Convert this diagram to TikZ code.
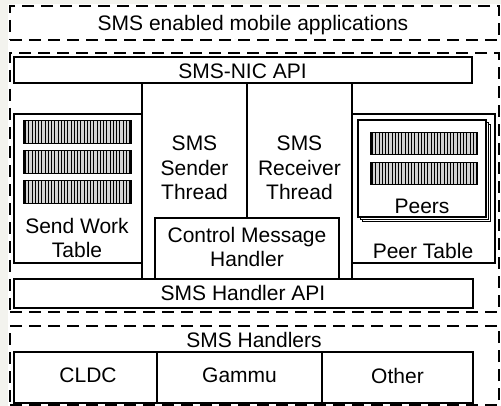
\documentclass[tikz,border=0pt]{standalone}
\usepackage{fontspec}
\setmainfont{Liberation Sans}
\definecolor{margin}{RGB}{243,243,238}
\begin{document}
\begin{tikzpicture}[x=1pt,y=-1pt,
  box/.style={draw, line width=1.6pt, fill=white, inner sep=0pt},
  pagebox/.style={draw, line width=1.1pt, fill=white, inner sep=0pt, minimum width=128pt, minimum height=97pt},
  dbox/.style={draw, line width=1.8pt, dash pattern=on 12pt off 7pt, inner sep=0pt},
  lbl/.style={font=\fontsize{21}{24.5}\selectfont, anchor=north, inner sep=0pt, align=center},
  bar/.style={draw, line width=1.4pt, fill=gray!35, inner sep=0pt, minimum height=22.5pt,
    path picture={\foreach \k in {0,...,34}{
      \draw[line width=0.9pt] ([xshift=\k*3.25pt+1.6pt]path picture bounding box.north west)
        -- ([xshift=\k*3.25pt+1.6pt]path picture bounding box.south west);}}}
]
\useasboundingbox (0,0) rectangle (501,406);
\fill[margin] (0,0) rectangle (501,406);
\fill[white] (8,4) rectangle (501,406);

% dashed layers
\node[dbox, minimum width=489pt, minimum height=34pt]  (apps) at (254.5,23) {};
\node[dbox, minimum width=489pt, minimum height=259pt] (core) at (254.5,182.5) {};
\node[dbox, minimum width=489pt, minimum height=79pt]  (hand) at (254.5,365.5) {};

% core blocks
\node[box, minimum width=105pt, minimum height=196pt] (sender)   at (194.5,181) {};
\node[box, minimum width=105pt, minimum height=196pt] (receiver) at (299.5,181) {};
\node[box, minimum width=128pt, minimum height=149pt] (sendwork) at (78,188.5) {};
\node[box, minimum width=143pt, minimum height=149pt] (peertable) at (423.5,188.5) {};
\node[box, minimum width=458pt, minimum height=26pt]  (nic)  at (243,70) {};
\node[box, minimum width=459pt, minimum height=29pt]  (hapi) at (243.5,293.5) {};
\node[box, minimum width=184pt, minimum height=61pt]  (control) at (247,248.5) {};

% peers stack
\node[pagebox] (peersC) at (426.8,173.3) {};
\node[pagebox] (peersB) at (424.4,170.9) {};
\node[pagebox] (peers)  at (422,168.5) {};

% hatched bars
\node[bar, minimum width=107pt] (sw1) at (77.5,132) {};
\node[bar, minimum width=107pt] (sw2) at (77.5,162) {};
\node[bar, minimum width=107pt] (sw3) at (77.5,192) {};
\node[bar, minimum width=106pt] (pb1) at (424,143.5) {};
\node[bar, minimum width=106pt] (pb2) at (424,173.5) {};

% handlers
\node[box, minimum width=143pt, minimum height=51pt] (cldc)  at (85.5,377.5) {};
\node[box, minimum width=165pt, minimum height=51pt] (gammu) at (239.5,377.5) {};
\node[box, minimum width=151pt, minimum height=51pt] (other) at (397.5,377.5) {};

% labels
\node[lbl] (tapps) at (253,15) {SMS enabled mobile applications};
\node[lbl] (tnic) at (242.5,63.3) {SMS-NIC API};
\node[lbl] (tsender) at (194.5,136) {SMS\\Sender\\Thread};
\node[lbl] (treceiver) at (299.5,136) {SMS\\Receiver\\Thread};
\node[lbl] (tsendwork) at (77,218) {Send Work\\Table};
\node[lbl] (tcontrol) at (247,227) {Control Message\\Handler};
\node[lbl] (tpeers) at (422,199) {Peers};
\node[lbl] (tpeertable) at (423,243) {Peer Table};
\node[lbl] (thapi) at (243,285) {SMS Handler API};
\node[lbl] (thand) at (254,332) {SMS Handlers};
\node[lbl] (tcldc) at (88,368) {CLDC};
\node[lbl] (tgammu) at (239.5,368) {Gammu};
\node[lbl] (tother) at (397.5,368) {Other};
\end{tikzpicture}
\end{document}
